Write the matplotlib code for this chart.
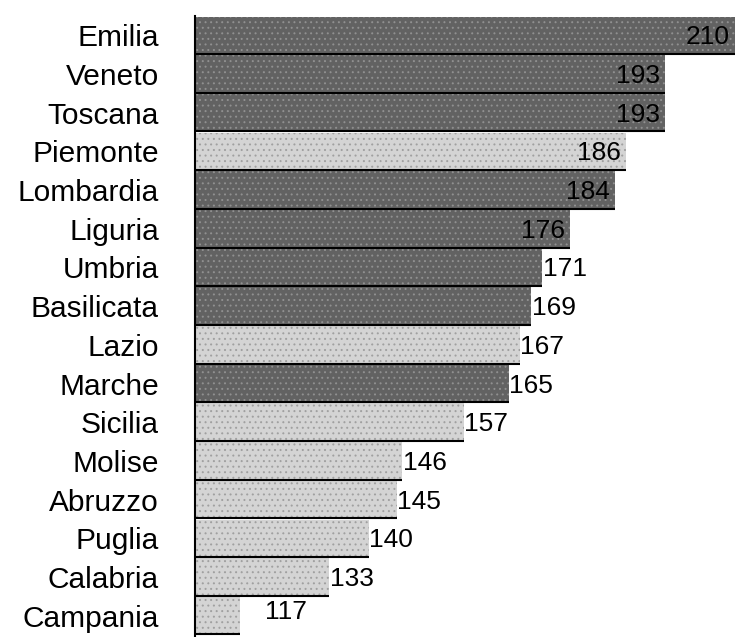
import matplotlib
matplotlib.use('Agg')
import matplotlib.pyplot as plt

# dati: regioni e valori
regioni = ['Emilia', 'Veneto', 'Toscana', 'Piemonte', 'Lombardia', 'Liguria', 'Umbria',
           'Basilicata', 'Lazio', 'Marche', 'Sicilia', 'Molise', 'Abruzzo', 'Puglia',
           'Calabria', 'Campania']
valori = [210, 193, 193, 186, 184, 176, 171, 169, 167, 165, 157, 146, 145, 140, 133, 117]
gruppo = ['scuro', 'scuro', 'scuro', 'chiaro', 'scuro', 'scuro', 'scuro', 'scuro',
          'chiaro', 'scuro', 'chiaro', 'chiaro', 'chiaro', 'chiaro', 'chiaro', 'chiaro']

colori = {'scuro': '#626262', 'chiaro': '#d4d4d4'}
puntini = {'scuro': '#909090', 'chiaro': '#a0a0a0'}
plt.rcParams['font.family'] = ['Liberation Sans', 'DejaVu Sans']
plt.rcParams['hatch.linewidth'] = 0.7

fig = plt.figure(figsize=(7.35, 6.37), dpi=100)
ax = fig.add_axes([195/735, 0, 540/735, 621/637])

xmin = 109
xmax = xmin + 540/5.6
h = 0.97
for i, (r, v, g) in enumerate(zip(regioni, valori, gruppo)):
    ax.barh(i, v - xmin, left=xmin, height=h, color=colori[g],
            edgecolor=puntini[g], linewidth=0, hatch='...')
    ax.hlines(i + h/2, xmin, v, color='black', lw=1.5)
    if i < 6:
        ax.text(min(v, xmax) - 1.0, i + 0.05, str(v), ha='right', va='center', fontsize=19)
    elif i == len(valori) - 1:
        ax.text(v + 4.5, i - 0.1, str(v), ha='left', va='center', fontsize=19)
    else:
        ax.text(v + 0.1, i + 0.05, str(v), ha='left', va='center', fontsize=19)

ax.set_xlim(xmin, xmax)
ax.set_ylim(15.55, -0.5)
ax.set_yticks(range(len(regioni)))
ax.set_yticklabels(regioni, fontsize=21.5)
ax.tick_params(axis='y', length=0, pad=26)
ax.set_xticks([])
for s in ['top', 'right', 'bottom']:
    ax.spines[s].set_visible(False)
ax.spines['left'].set_linewidth(1.5)

fig.savefig('out.png', dpi=100)
